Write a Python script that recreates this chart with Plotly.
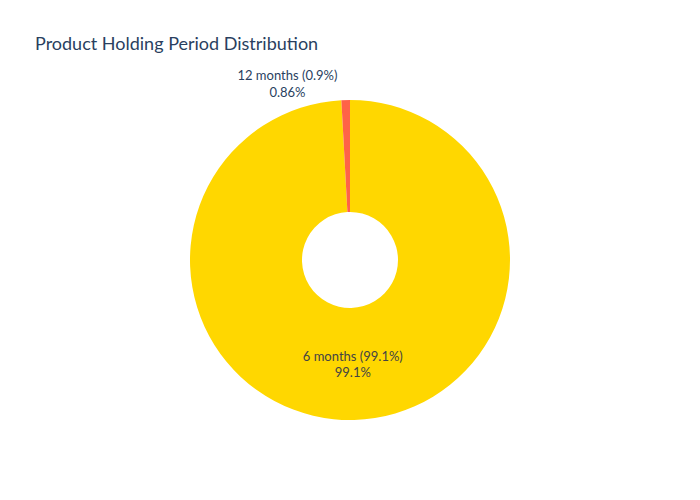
import plotly.graph_objects as go

labels = ["6 months (99.1%)", "12 months (0.9%)"]
values = [461, 4]
colors = ["#FFD700", "#FF6347"]

fig = go.Figure(go.Pie(
    labels=labels,
    values=values,
    hole=0.3,
    marker=dict(colors=colors),
    textinfo="label+percent",
    textfont=dict(size=13),
    sort=False,
    direction="clockwise",
    showlegend=False,
))
fig.update_layout(
    title=dict(text="Product Holding Period Distribution", font=dict(size=18)),
    font=dict(family="Source Sans Pro, Lato, sans-serif"),
    width=700, height=500,
    template="plotly",
)
fig.write_html("out.html")
